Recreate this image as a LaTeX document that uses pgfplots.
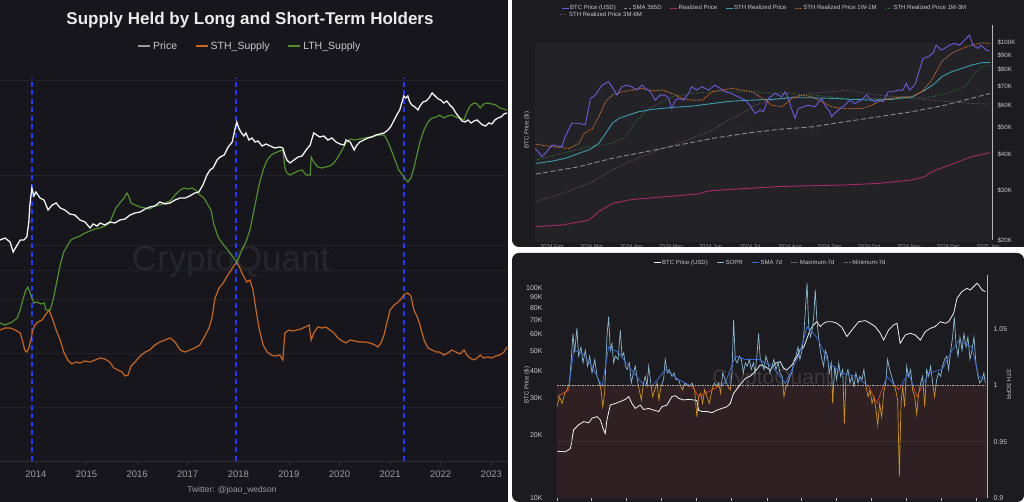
\documentclass[border=0pt]{standalone}
\usepackage{fontspec}
\setmainfont{Liberation Sans}
\usepackage{pgfplots}
\usepackage{pgfplotstable}
\pgfplotsset{compat=1.18}

\definecolor{bgL}{HTML}{16161C}
\definecolor{bgR}{HTML}{1B1B20}
\definecolor{plotR}{HTML}{222227}
\definecolor{gridL}{HTML}{22222A}
\definecolor{axisL}{HTML}{2E2E36}
\definecolor{tickL}{HTML}{9A9AA0}
\definecolor{wm}{HTML}{25252C}
\definecolor{priceW}{HTML}{F2F2F2}
\definecolor{sthO}{HTML}{C8661F}
\definecolor{lthG}{HTML}{4E8F2A}
\definecolor{vblue}{HTML}{1F3BFF}
\definecolor{trBlue}{HTML}{6A5CE0}
\definecolor{trOrange}{HTML}{C8692C}
\definecolor{trTeal}{HTML}{3C9CB0}
\definecolor{trGray}{HTML}{8C8C90}
\definecolor{trMaroon}{HTML}{A82A62}
\definecolor{trGreen}{HTML}{3E7A3C}
\definecolor{trPurple}{HTML}{7A5A7E}
\definecolor{soprBlue}{HTML}{8AB8CE}
\definecolor{smaBlue}{HTML}{3A6AD6}
\definecolor{soprOrange}{HTML}{CC921E}
\definecolor{smaRed}{HTML}{CC4422}
\definecolor{fillBrown}{HTML}{2E2023}
\definecolor{legTxt}{HTML}{C8C8CC}
\definecolor{axR}{HTML}{B4B4B8}

% ---------- left chart data (x = year, y = relative level) ----------
\pgfplotstableread{
x y
2013.29 221
2013.39 223
2013.49 219
2013.55 209
2013.63 216
2013.69 221
2013.76 221
2013.82 224
2013.86 239
2013.88 256
2013.92 273
2013.96 265
2014.00 269
2014.08 263
2014.16 261
2014.24 251
2014.32 256
2014.40 258
2014.48 253
2014.57 251
2014.67 247
2014.77 246
2014.87 241
2014.97 239
2015.07 233
2015.13 237
2015.21 235
2015.27 238
2015.36 236
2015.46 239
2015.56 238
2015.66 241
2015.76 242
2015.86 246
2015.96 248
2016.06 249
2016.16 252
2016.25 254
2016.35 255
2016.45 259
2016.55 257
2016.65 258
2016.75 261
2016.85 263
2016.95 263
2017.04 265
2017.14 268
2017.22 269
2017.30 276
2017.38 286
2017.44 291
2017.50 293
2017.58 301
2017.64 304
2017.72 306
2017.80 314
2017.88 319
2017.93 331
2017.97 339
2018.01 333
2018.05 329
2018.11 325
2018.15 328
2018.21 321
2018.27 323
2018.33 319
2018.39 320
2018.47 315
2018.55 317
2018.63 315
2018.72 313
2018.82 314
2018.88 313
2018.92 306
2018.96 301
2019.02 298
2019.10 301
2019.18 304
2019.26 305
2019.34 311
2019.42 316
2019.49 328
2019.55 326
2019.61 324
2019.69 325
2019.77 321
2019.85 323
2019.93 319
2020.01 317
2020.09 316
2020.13 321
2020.21 319
2020.29 311
2020.33 315
2020.40 319
2020.48 321
2020.56 323
2020.64 324
2020.72 326
2020.80 327
2020.88 328
2020.96 331
2021.02 335
2021.08 341
2021.13 346
2021.19 351
2021.23 358
2021.27 365
2021.31 363
2021.35 365
2021.39 359
2021.43 356
2021.49 354
2021.55 351
2021.59 355
2021.65 359
2021.71 360
2021.77 363
2021.83 368
2021.89 365
2021.95 362
2022.00 361
2022.06 358
2022.12 360
2022.18 356
2022.24 353
2022.30 348
2022.36 344
2022.42 340
2022.48 339
2022.54 341
2022.60 338
2022.66 340
2022.72 341
2022.78 338
2022.83 336
2022.89 335
2022.95 338
2023.01 337
2023.07 341
2023.13 343
2023.19 344
2023.25 347
2023.31 348
}\priceL

\pgfplotstableread{
x y
2013.29 131
2013.39 133
2013.49 133
2013.59 131
2013.69 128
2013.74 119
2013.78 111
2013.82 109
2013.86 113
2013.90 121
2013.94 131
2013.98 136
2014.04 139
2014.12 141
2014.20 147
2014.26 151
2014.32 143
2014.40 131
2014.48 121
2014.55 109
2014.63 101
2014.71 97
2014.79 99
2014.87 98
2014.97 100
2015.07 99
2015.17 101
2015.27 103
2015.36 102
2015.46 99
2015.54 93
2015.62 91
2015.70 89
2015.76 85
2015.82 86
2015.88 95
2015.96 99
2016.06 105
2016.16 109
2016.25 111
2016.35 116
2016.45 119
2016.55 121
2016.65 123
2016.75 119
2016.85 111
2016.95 109
2017.04 111
2017.14 113
2017.24 116
2017.34 125
2017.42 133
2017.48 143
2017.54 163
2017.62 173
2017.70 178
2017.78 185
2017.86 191
2017.91 195
2017.97 199
2018.03 193
2018.09 186
2018.17 179
2018.23 181
2018.29 171
2018.35 151
2018.41 133
2018.49 116
2018.57 109
2018.65 106
2018.72 105
2018.82 106
2018.88 101
2018.92 128
2019.00 131
2019.08 130
2019.16 131
2019.24 132
2019.32 134
2019.40 136
2019.44 121
2019.49 128
2019.57 134
2019.65 133
2019.73 134
2019.81 131
2019.89 128
2019.97 123
2020.05 120
2020.13 118
2020.21 121
2020.30 120
2020.40 119
2020.50 119
2020.60 118
2020.70 116
2020.76 114
2020.82 118
2020.88 126
2020.94 139
2021.00 151
2021.08 156
2021.16 159
2021.23 163
2021.29 167
2021.35 168
2021.41 165
2021.47 151
2021.53 145
2021.59 136
2021.67 121
2021.75 113
2021.83 111
2021.91 109
2021.98 109
2022.06 106
2022.14 108
2022.22 111
2022.30 109
2022.38 107
2022.46 111
2022.52 106
2022.58 103
2022.66 101
2022.72 103
2022.78 106
2022.85 103
2022.93 104
2023.01 103
2023.09 105
2023.17 106
2023.25 109
2023.31 114
}\sthL

\pgfplotstableread{
x y
2013.29 138
2013.39 136
2013.53 139
2013.63 143
2013.69 151
2013.74 161
2013.80 171
2013.84 174
2013.88 169
2013.92 163
2013.96 158
2014.02 159
2014.10 157
2014.16 158
2014.20 151
2014.28 151
2014.34 161
2014.40 176
2014.48 196
2014.55 209
2014.63 216
2014.69 221
2014.77 223
2014.87 225
2014.97 228
2015.07 230
2015.17 232
2015.27 233
2015.36 235
2015.46 238
2015.52 246
2015.58 253
2015.66 258
2015.74 263
2015.80 268
2015.84 264
2015.88 258
2015.96 256
2016.06 254
2016.16 253
2016.25 252
2016.35 255
2016.45 256
2016.55 258
2016.65 260
2016.75 266
2016.85 271
2016.93 273
2017.01 272
2017.08 273
2017.16 271
2017.24 266
2017.32 263
2017.40 256
2017.46 251
2017.52 236
2017.60 224
2017.68 218
2017.76 213
2017.84 208
2017.91 203
2017.97 199
2018.03 206
2018.09 213
2018.15 219
2018.23 231
2018.29 246
2018.35 261
2018.41 276
2018.49 291
2018.57 301
2018.65 306
2018.72 308
2018.82 310
2018.88 311
2018.92 293
2018.96 288
2019.02 286
2019.10 288
2019.18 290
2019.26 291
2019.34 286
2019.42 286
2019.44 304
2019.49 299
2019.57 294
2019.65 293
2019.73 294
2019.81 295
2019.89 298
2019.97 304
2020.05 311
2020.13 318
2020.21 322
2020.30 321
2020.40 322
2020.50 323
2020.60 324
2020.70 325
2020.80 326
2020.88 326
2020.94 321
2021.00 314
2021.06 306
2021.12 298
2021.17 291
2021.23 287
2021.29 283
2021.35 279
2021.41 283
2021.47 293
2021.53 306
2021.59 319
2021.67 331
2021.75 339
2021.83 343
2021.91 344
2021.98 346
2022.06 343
2022.14 345
2022.22 346
2022.30 344
2022.38 343
2022.46 341
2022.52 349
2022.58 355
2022.66 358
2022.72 357
2022.78 353
2022.85 357
2022.93 358
2023.01 357
2023.09 356
2023.17 353
2023.25 352
2023.31 351
}\lthL

% ---------- top-right data (x = months since 2024-01-01, y = price in $K) ----------
\pgfplotstableread{
x y
0.58 42.1
0.75 39.4
0.83 40.5
1.00 43.3
1.25 42.7
1.33 46.3
1.50 51.7
1.67 51.7
1.84 51.0
1.97 63.3
2.09 65.0
2.26 70.5
2.43 72.4
2.51 69.6
2.64 65.0
2.76 69.6
2.89 70.5
3.01 69.6
3.14 67.7
3.27 70.5
3.35 68.7
3.48 66.8
3.60 62.4
3.73 65.0
3.85 65.0
3.94 63.3
4.02 58.3
4.11 62.4
4.19 63.3
4.32 62.4
4.44 65.9
4.53 69.6
4.65 67.7
4.78 69.6
4.95 67.7
5.11 70.5
5.24 68.7
5.37 66.8
5.53 65.9
5.70 64.1
5.87 62.4
5.99 59.9
6.12 56.0
6.25 57.5
6.33 56.8
6.46 63.3
6.63 65.9
6.79 64.1
6.88 66.8
6.96 63.3
7.04 58.3
7.13 53.8
7.21 58.3
7.34 59.1
7.46 59.9
7.63 59.1
7.80 63.3
7.88 59.9
8.01 56.8
8.05 54.5
8.13 56.0
8.26 58.3
8.39 59.9
8.51 62.4
8.64 60.7
8.80 62.4
8.93 65.0
9.06 62.4
9.14 61.6
9.23 62.4
9.35 61.6
9.48 66.8
9.60 66.8
9.73 67.7
9.85 67.7
9.94 71.5
10.02 67.7
10.15 70.5
10.23 76.5
10.36 87.6
10.48 88.8
10.61 91.3
10.69 97.6
10.82 93.8
10.90 95.0
11.03 97.6
11.15 99.0
11.28 97.6
11.41 101.7
11.53 105.9
11.62 97.6
11.74 95.0
11.82 97.6
11.95 93.8
12.03 93.2
}\trPrice

\pgfplotstableread{
x y
0.59 43.6
1.01 42.7
1.43 42.1
1.68 43.9
1.81 47.6
2.02 49.6
2.18 54.5
2.35 61.6
2.52 65.0
2.77 66.8
3.02 67.7
3.27 68.7
3.53 67.3
3.78 67.7
4.03 65.9
4.28 63.3
4.53 62.4
4.79 62.4
5.04 66.8
5.29 67.7
5.54 68.7
5.79 67.7
6.05 66.8
6.30 63.3
6.55 59.9
6.80 59.1
7.05 63.3
7.30 65.0
7.56 64.1
7.81 61.6
8.06 59.1
8.31 58.3
8.56 58.3
8.82 58.3
9.07 59.9
9.32 62.4
9.57 63.3
9.82 64.1
10.08 64.1
10.33 66.8
10.58 73.5
10.83 85.3
11.08 91.3
11.34 95.0
11.59 97.6
11.84 99.5
12.05 99.0
}\trOneW

\pgfplotstableread{
x y
0.59 37.3
1.01 38.0
1.34 38.9
1.68 40.5
1.93 41.6
2.18 43.9
2.35 47.6
2.52 51.7
2.69 53.8
2.94 55.3
3.19 56.8
3.53 57.9
4.03 58.8
4.53 59.4
5.04 60.7
5.54 61.9
6.05 62.4
6.55 62.8
7.05 63.6
7.56 63.6
8.06 63.3
8.56 62.8
9.07 62.4
9.57 62.8
10.08 64.1
10.41 67.7
10.66 71.5
10.83 75.5
11.08 78.6
11.34 80.8
11.59 83.0
11.84 84.6
12.05 84.8
}\trSTH

\pgfplotstableread{
x y
0.59 34.2
1.68 36.3
2.52 38.9
3.36 41.0
4.20 43.3
5.04 45.7
5.88 47.6
6.72 49.2
7.56 50.2
8.40 52.4
9.24 54.5
10.08 56.8
10.92 59.9
12.05 65.9
}\trSMA

\pgfplotstableread{
x y
0.59 22.3
1.26 22.6
1.93 23.5
2.18 25.2
2.52 26.9
2.94 27.7
3.53 28.2
4.20 28.7
4.70 29.1
4.87 29.6
5.04 29.9
5.88 30.4
6.72 30.9
7.56 31.1
8.40 31.3
9.24 31.7
10.08 32.6
10.41 33.5
10.58 34.9
10.92 36.3
11.25 37.8
11.59 39.4
12.05 40.7
}\trReal

\pgfplotstableread{
x y
0.59 27.3
1.26 29.2
1.93 31.7
2.52 35.3
2.94 37.8
3.36 39.9
3.78 42.1
4.20 43.9
4.62 46.3
5.04 48.9
5.46 53.1
5.88 56.8
6.13 59.9
6.55 62.4
7.05 64.1
7.56 65.9
8.06 66.8
8.40 67.7
8.90 65.9
9.24 65.0
9.74 64.1
10.08 63.3
10.58 62.4
11.08 61.6
11.59 60.7
12.05 60.4
}\trThreeM

\pgfplotstableread{
x y
0.59 38.3
1.26 40.5
1.93 42.7
2.52 43.9
2.85 46.3
3.11 52.4
3.36 56.8
3.61 59.9
4.03 64.1
4.53 65.9
5.04 66.8
5.54 66.8
6.05 66.8
6.55 65.9
7.05 65.9
7.56 65.0
8.06 64.1
8.56 62.8
9.07 63.3
9.57 63.3
10.08 63.3
10.58 64.1
11.08 66.8
11.42 69.6
11.59 75.5
11.84 81.8
12.05 83.0
}\trOneM

% ---------- bottom-right data ----------
\pgfplotstableread{
x y
2023.000 16.7
2023.040 16.6
2023.064 17.2
2023.071 18.9
2023.079 21.1
2023.103 22.3
2023.127 23.1
2023.151 22.8
2023.167 24.0
2023.191 24.4
2023.207 23.5
2023.222 21.1
2023.230 20.3
2023.238 23.5
2023.254 27.7
2023.278 28.2
2023.302 28.8
2023.326 29.5
2023.342 30.4
2023.357 28.2
2023.373 26.7
2023.397 27.7
2023.413 26.4
2023.437 26.7
2023.461 26.2
2023.485 25.8
2023.500 27.2
2023.524 27.7
2023.548 30.4
2023.564 30.7
2023.580 29.8
2023.604 29.3
2023.628 29.5
2023.651 29.3
2023.667 29.1
2023.675 26.2
2023.691 25.8
2023.715 25.8
2023.739 25.5
2023.763 26.2
2023.786 26.7
2023.810 27.2
2023.826 28.2
2023.842 31.5
2023.866 33.9
2023.898 37.1
2023.922 38.1
2023.945 40.0
2023.969 43.0
2023.993 42.2
2024.017 40.7
2024.041 43.8
2024.064 44.6
2024.080 41.5
2024.096 40.7
2024.120 43.0
2024.144 47.1
2024.160 51.0
2024.176 52.2
2024.192 57.6
2024.207 63.1
2024.223 66.7
2024.239 69.1
2024.255 65.5
2024.271 67.9
2024.287 69.1
2024.311 69.1
2024.335 67.9
2024.358 65.0
2024.382 58.7
2024.406 63.1
2024.438 69.1
2024.470 69.9
2024.493 67.9
2024.517 65.5
2024.541 60.9
2024.557 56.5
2024.581 63.1
2024.605 66.7
2024.621 67.9
2024.636 54.5
2024.660 59.7
2024.684 60.9
2024.708 59.7
2024.732 56.5
2024.756 62.0
2024.779 64.2
2024.803 65.5
2024.827 69.1
2024.851 67.9
2024.867 69.1
2024.891 75.8
2024.907 89.3
2024.930 96.0
2024.954 99.6
2024.970 97.8
2024.986 101.5
2025.002 105.3
2025.010 103.4
2025.026 97.8
2025.042 96.0
}\brPrice

\pgfplotstableread{
x y
2023.000 0.981
2023.011 0.990
2023.024 0.984
2023.037 0.993
2023.048 0.996
2023.059 1.002
2023.068 1.023
2023.076 1.046
2023.084 1.029
2023.095 1.051
2023.103 1.026
2023.114 1.034
2023.124 1.020
2023.135 1.031
2023.146 1.017
2023.156 1.026
2023.167 1.011
2023.180 1.023
2023.191 1.008
2023.202 1.002
2023.210 0.996
2023.218 0.981
2023.227 0.993
2023.238 1.043
2023.246 1.061
2023.254 1.031
2023.262 1.037
2023.270 1.020
2023.278 1.026
2023.291 1.023
2023.302 1.049
2023.310 1.026
2023.318 1.029
2023.326 1.017
2023.334 1.014
2023.345 1.020
2023.354 1.002
2023.364 1.011
2023.373 1.017
2023.383 1.005
2023.392 0.996
2023.402 0.987
2023.412 1.002
2023.421 1.008
2023.429 0.999
2023.437 1.017
2023.447 1.002
2023.456 0.990
2023.466 0.996
2023.477 1.002
2023.486 0.987
2023.496 0.999
2023.508 1.005
2023.516 1.023
2023.526 1.011
2023.535 1.014
2023.548 1.008
2023.558 1.011
2023.567 1.005
2023.580 1.005
2023.590 0.999
2023.599 0.996
2023.609 1.002
2023.620 1.000
2023.631 0.999
2023.644 1.002
2023.656 0.996
2023.667 0.972
2023.675 0.990
2023.685 0.993
2023.694 0.984
2023.704 0.996
2023.715 0.990
2023.726 0.984
2023.739 0.996
2023.750 1.002
2023.761 0.999
2023.771 1.002
2023.780 0.993
2023.790 1.011
2023.802 1.005
2023.815 0.999
2023.826 0.996
2023.834 1.011
2023.842 1.058
2023.850 1.023
2023.860 1.020
2023.869 1.026
2023.879 1.023
2023.888 1.011
2023.898 1.020
2023.907 1.017
2023.917 1.023
2023.926 1.014
2023.936 1.020
2023.945 1.011
2023.955 1.031
2023.961 1.046
2023.969 1.023
2023.977 1.020
2023.987 1.014
2023.996 1.026
2024.006 1.020
2024.015 1.011
2024.025 1.017
2024.034 1.023
2024.044 1.014
2024.054 1.020
2024.063 1.011
2024.073 1.008
2024.082 0.990
2024.092 0.999
2024.101 1.002
2024.111 1.008
2024.120 1.011
2024.130 1.023
2024.139 1.026
2024.149 1.034
2024.158 1.023
2024.168 1.031
2024.177 1.046
2024.184 1.067
2024.192 1.091
2024.200 1.052
2024.208 1.043
2024.216 1.049
2024.224 1.061
2024.231 1.085
2024.239 1.058
2024.247 1.043
2024.255 1.031
2024.263 1.023
2024.271 1.017
2024.279 1.031
2024.289 1.026
2024.298 1.011
2024.308 1.020
2024.314 0.984
2024.324 1.017
2024.333 1.005
2024.343 1.020
2024.352 1.008
2024.362 1.014
2024.370 0.966
2024.378 1.008
2024.387 1.014
2024.397 1.002
2024.406 1.008
2024.416 0.999
2024.425 1.011
2024.435 1.002
2024.444 1.008
2024.454 1.005
2024.463 1.014
2024.473 0.999
2024.483 0.990
2024.492 0.996
2024.502 0.984
2024.511 0.990
2024.521 0.978
2024.529 0.965
2024.538 0.984
2024.548 0.972
2024.557 0.993
2024.567 1.002
2024.576 1.023
2024.586 1.014
2024.595 1.008
2024.605 1.002
2024.614 0.996
2024.624 0.987
2024.632 0.919
2024.640 0.984
2024.648 0.999
2024.657 0.981
2024.667 1.017
2024.676 1.008
2024.686 1.014
2024.695 0.996
2024.705 0.990
2024.715 0.974
2024.724 0.993
2024.734 1.002
2024.743 1.008
2024.753 0.981
2024.762 1.014
2024.772 1.008
2024.781 1.017
2024.791 1.002
2024.800 0.990
2024.810 1.005
2024.819 1.011
2024.829 1.008
2024.838 1.017
2024.848 1.023
2024.858 1.026
2024.867 1.014
2024.877 1.031
2024.886 1.043
2024.894 1.061
2024.902 1.037
2024.912 1.026
2024.921 1.043
2024.931 1.031
2024.940 1.046
2024.950 1.034
2024.959 1.043
2024.969 1.023
2024.978 1.031
2024.988 1.043
2024.997 1.020
2025.007 1.008
2025.016 1.002
2025.026 1.005
2025.035 1.011
2025.042 1.002
}\soprdata

\pgfplotstableread{
x y
2023.000 0.990
2023.056 0.996
2023.079 1.031
2023.119 1.029
2023.167 1.017
2023.215 0.999
2023.246 1.034
2023.294 1.029
2023.342 1.017
2023.405 1.002
2023.453 0.999
2023.516 1.014
2023.580 1.005
2023.644 0.999
2023.675 0.990
2023.739 0.996
2023.802 1.002
2023.850 1.026
2023.898 1.023
2023.961 1.023
2024.025 1.017
2024.088 1.002
2024.152 1.026
2024.192 1.052
2024.224 1.046
2024.247 1.040
2024.295 1.020
2024.359 1.011
2024.422 1.008
2024.486 0.999
2024.525 0.984
2024.573 1.008
2024.629 0.996
2024.676 1.011
2024.716 0.990
2024.772 1.011
2024.835 1.014
2024.883 1.031
2024.915 1.040
2024.947 1.037
2024.978 1.034
2025.010 1.008
2025.042 1.005
}\smadata

\begin{document}
\begin{tikzpicture}
% backgrounds
\fill[white] (0pt,0pt) rectangle (1024pt,502pt);
\fill[bgL] (0pt,0pt) rectangle (508pt,502pt);
\fill[bgR, rounded corners=7pt] (512pt,255pt) rectangle (1030pt,508pt);
\fill[bgR, rounded corners=7pt] (512pt,0pt) rectangle (1024pt,249pt);
\fill[plotR] (535pt,260pt) rectangle (992pt,459pt);

% watermarks
\node[text=wm, font=\fontsize{35}{40}\selectfont] at (231pt,240pt) {CryptoQuant};
\node[text=wm, font=\fontsize{21}{24}\selectfont] at (762pt,372pt) {CryptoQuant};

% ================= LEFT CHART =================
\node[text=white!92!black, font=\fontsize{17}{20}\selectfont\bfseries] at (250pt,482pt) {Supply Held by Long and Short-Term Holders};
\node[text=tickL, font=\fontsize{8.5}{10}\selectfont] at (232pt,12pt) {Twitter: @joao\_wedson};

\begin{axis}[
  at={(0pt,41pt)}, anchor=south west, scale only axis,
  width=508pt, height=383pt,
  xmin=2013.29, xmax=2023.33, ymin=0, ymax=383,
  axis x line*=bottom, axis y line*=left,
  x axis line style={color=axisL, line width=0.8pt},
  y axis line style={draw=none},
  xtick={2014,2015,2016,2017,2018,2019,2020,2021,2022,2023},
  xticklabels={2014,2015,2016,2017,2018,2019,2020,2021,2022,2023},
  xtick style={color=axisL, line width=0.6pt},
  tick align=outside, major tick length=4pt,
  xticklabel style={font=\fontsize{9.5}{11}\selectfont, text=tickL, yshift=-2pt},
  ytick={54,108,162,191,216,286,381}, yticklabels={},
  ytick style={draw=none},
  ymajorgrids, grid style={color=gridL, line width=0.6pt},
  legend columns=-1,
  legend style={at={(0.492,1.0836)}, anchor=center, draw=none, fill=none,
    text=legTxt, font=\fontsize{10.5}{12}\selectfont,
    /tikz/every even column/.append style={column sep=16pt},
    nodes={inner sep=2pt}},
  legend image code/.code={\draw[#1, line width=1.6pt] (0pt,0pt) -- (12pt,0pt);},
]
\addplot[vblue, line width=1.7pt, dash pattern=on 5pt off 3.5pt, forget plot] coordinates {(2013.92,0) (2013.92,383)};
\addplot[vblue, line width=1.7pt, dash pattern=on 5pt off 3.5pt, forget plot] coordinates {(2017.95,0) (2017.95,383)};
\addplot[vblue, line width=1.7pt, dash pattern=on 5pt off 3.5pt, forget plot] coordinates {(2021.28,0) (2021.28,383)};
\addplot[sthO, line width=1.2pt, forget plot] table {\sthL};
\addplot[lthG, line width=1.2pt, forget plot] table {\lthL};
\addplot[priceW, line width=1.3pt, forget plot] table {\priceL};
\addlegendimage{color=gray!80}\addlegendentry{Price}
\addlegendimage{color=sthO}\addlegendentry{STH\_Supply}
\addlegendimage{color=lthG}\addlegendentry{LTH\_Supply}
\end{axis}

% ================= TOP-RIGHT CHART =================
\begin{scope}
\clip (512pt,255pt) rectangle (1024pt,502pt);
\node[rotate=90, text=legTxt, font=\fontsize{6}{7}\selectfont] at (527pt,372pt) {BTC Price (\$)};
\begin{axis}[
  at={(535pt,262pt)}, anchor=south west, scale only axis,
  width=457pt, height=215pt,
  xmin=0.57, xmax=12.1, ymode=log, ymin=20, ymax=115,
  axis x line*=bottom, axis y line*=right,
  x axis line style={draw=none},
  y axis line style={color=axR, line width=0.8pt},
  xtick={1,2,3,4,5,6,7,8,9,10,11,12},
  xticklabels={2024 Feb,2024 Mar,2024 Apr,2024 May,2024 Jun,2024 Jul,2024 Aug,2024 Sep,2024 Oct,2024 Nov,2024 Dec,2025 Jan},
  xtick style={draw=none},
  xticklabel style={font=\fontsize{5.5}{6}\selectfont, text=tickL, yshift=-1pt},
  ytick={20,30,40,50,60,70,80,90,100},
  yticklabels={\$20K,\$30K,\$40K,\$50K,\$60K,\$70K,\$80K,\$90K,\$100K},
  ytick style={draw=none},
  yticklabel style={font=\fontsize{6.2}{7}\selectfont, text=legTxt, xshift=2pt},
  legend columns=-1,
  legend style={at={(0.0503,1.107)}, anchor=north west, draw=none, fill=none,
    text=legTxt, font=\fontsize{6}{7}\selectfont,
    /tikz/every even column/.append style={column sep=7pt},
    nodes={inner sep=1pt}},
  legend image code/.code={\draw[#1, line width=0.9pt] (0pt,0pt) -- (7pt,0pt);},
]
\addplot[trMaroon, line width=0.9pt, forget plot] table {\trReal};
\addplot[trGray, line width=0.9pt, dash pattern=on 5pt off 2.5pt, forget plot] table {\trSMA};
\addplot[trPurple, line width=0.9pt, dash pattern=on 0.8pt off 1.6pt, forget plot] table {\trThreeM};
\addplot[trGreen, line width=0.9pt, dash pattern=on 0.8pt off 1.6pt, forget plot] table {\trOneM};
\addplot[trTeal, line width=0.9pt, forget plot] table {\trSTH};
\addplot[trOrange, line width=0.9pt, dash pattern=on 1.5pt off 1pt, forget plot] table {\trOneW};
\addplot[trBlue, line width=0.9pt, forget plot] table {\trPrice};
\addlegendimage{color=trBlue}\addlegendentry{BTC Price (USD)}
\addlegendimage{color=trGray, dash pattern=on 3pt off 1.5pt}\addlegendentry{SMA 365D}
\addlegendimage{color=trMaroon}\addlegendentry{Realized Price}
\addlegendimage{color=trTeal}\addlegendentry{STH Realized Price}
\addlegendimage{color=trOrange, dash pattern=on 1.5pt off 1pt}\addlegendentry{STH Realized Price 1W-1M}
\addlegendimage{color=trGreen, dash pattern=on 0.8pt off 1.6pt}\addlegendentry{STH Realized Price 1M-3M}
\end{axis}
% second legend row (legend key for the 3M-6M series)
\draw[trPurple, line width=0.9pt, dash pattern=on 0.8pt off 1.6pt] (560pt,488pt) -- (567pt,488pt);
\node[anchor=west, text=legTxt, font=\fontsize{6}{7}\selectfont, inner sep=1pt] at (568pt,488pt) {STH Realized Price 3M-6M};
\end{scope}

% ================= BOTTOM-RIGHT CHART =================
\begin{scope}
\clip (512pt,0pt) rectangle (1024pt,249pt);
\node[rotate=90, text=legTxt, font=\fontsize{6}{7}\selectfont] at (527pt,117pt) {BTC Price (\$)};
\node[rotate=-90, text=legTxt, font=\fontsize{6}{7}\selectfont] at (1009pt,117pt) {STH SOPR};
\begin{axis}[
  at={(557pt,4pt)}, anchor=south west, scale only axis,
  width=430pt, height=223pt,
  xmin=2023, xmax=2025.05, ymode=log, ymin=10, ymax=115.3,
  axis x line*=bottom, axis y line*=left,
  x axis line style={draw=none}, y axis line style={draw=none},
  xtick={2023.0,2023.162,2023.329,2023.496,2023.666,2023.833,2024.0,2024.164,2024.331,2024.497,2024.667,2024.833,2025.0},
  xticklabels={}, xtick style={color=gray!60, line width=0.5pt},
  tick align=outside, major tick length=3pt,
  ytick={10,20,30,40,50,60,70,80,90,100},
  yticklabels={10K,20K,30K,40K,50K,60K,70K,80K,90K,100K},
  ytick style={draw=none},
  yticklabel style={font=\fontsize{7}{8}\selectfont, text=legTxt, xshift=-8pt},
]
\fill[fillBrown] (rel axis cs:0,0) rectangle (rel axis cs:1,0.50505);
\node[text=white!10!fillBrown, font=\fontsize{21}{24}\selectfont] at (rel axis cs:0.50,0.53) {CryptoQuant};
\addplot[priceW, line width=0.8pt] table {\brPrice};
\end{axis}
\begin{axis}[
  at={(557pt,4pt)}, anchor=south west, scale only axis,
  width=430pt, height=223pt,
  xmin=2023, xmax=2025.05, ymin=0.9, ymax=1.098,
  axis x line=none, axis y line*=right,
  y axis line style={color=axR, line width=0.8pt},
  ytick={0.9,0.95,1,1.05},
  yticklabels={0.9,0.95,1,1.05},
  ytick style={draw=none},
  yticklabel style={font=\fontsize{7}{8}\selectfont, text=legTxt, xshift=3pt},
  legend columns=-1,
  legend style={at={(0.495,1.054)}, anchor=center, draw=none, fill=none,
    text=legTxt, font=\fontsize{6}{7}\selectfont,
    /tikz/every even column/.append style={column sep=8pt},
    nodes={inner sep=1pt}},
  legend image code/.code={\draw[#1, line width=0.9pt] (0pt,0pt) -- (7pt,0pt);},
]
\draw[color=white!6!fillBrown, line width=0.6pt] (axis cs:2023,0.95) -- (axis cs:2025.05,0.95);
\begin{scope}
\clip (axis cs:2023,1) rectangle (axis cs:2025.05,1.098);
\addplot[soprBlue, line width=0.7pt, forget plot] table {\soprdata};
\addplot[smaBlue, line width=0.8pt, forget plot] table {\smadata};
\end{scope}
\begin{scope}
\clip (axis cs:2023,0.9) rectangle (axis cs:2025.05,1);
\addplot[soprOrange, line width=0.7pt, forget plot] table {\soprdata};
\addplot[smaRed, line width=0.8pt, forget plot] table {\smadata};
\end{scope}
\addplot[color=white!70!black, line width=0.6pt, dash pattern=on 1.5pt off 1pt, forget plot] coordinates {(2023,1) (2025.05,1)};
\addlegendimage{color=white}\addlegendentry{BTC Price (USD)}
\addlegendimage{color=soprBlue}\addlegendentry{SOPR}
\addlegendimage{color=smaBlue}\addlegendentry{SMA 7d}
\addlegendimage{color=gray, dash pattern=on 2pt off 1pt}\addlegendentry{Maximum-7d}
\addlegendimage{color=gray, dash pattern=on 2pt off 1pt on 0.5pt off 1pt}\addlegendentry{Minimum-7d}
\end{axis}
\end{scope}
\pgfresetboundingbox
\useasboundingbox (0pt,0pt) rectangle (1024pt,502pt);
\end{tikzpicture}
\end{document}
